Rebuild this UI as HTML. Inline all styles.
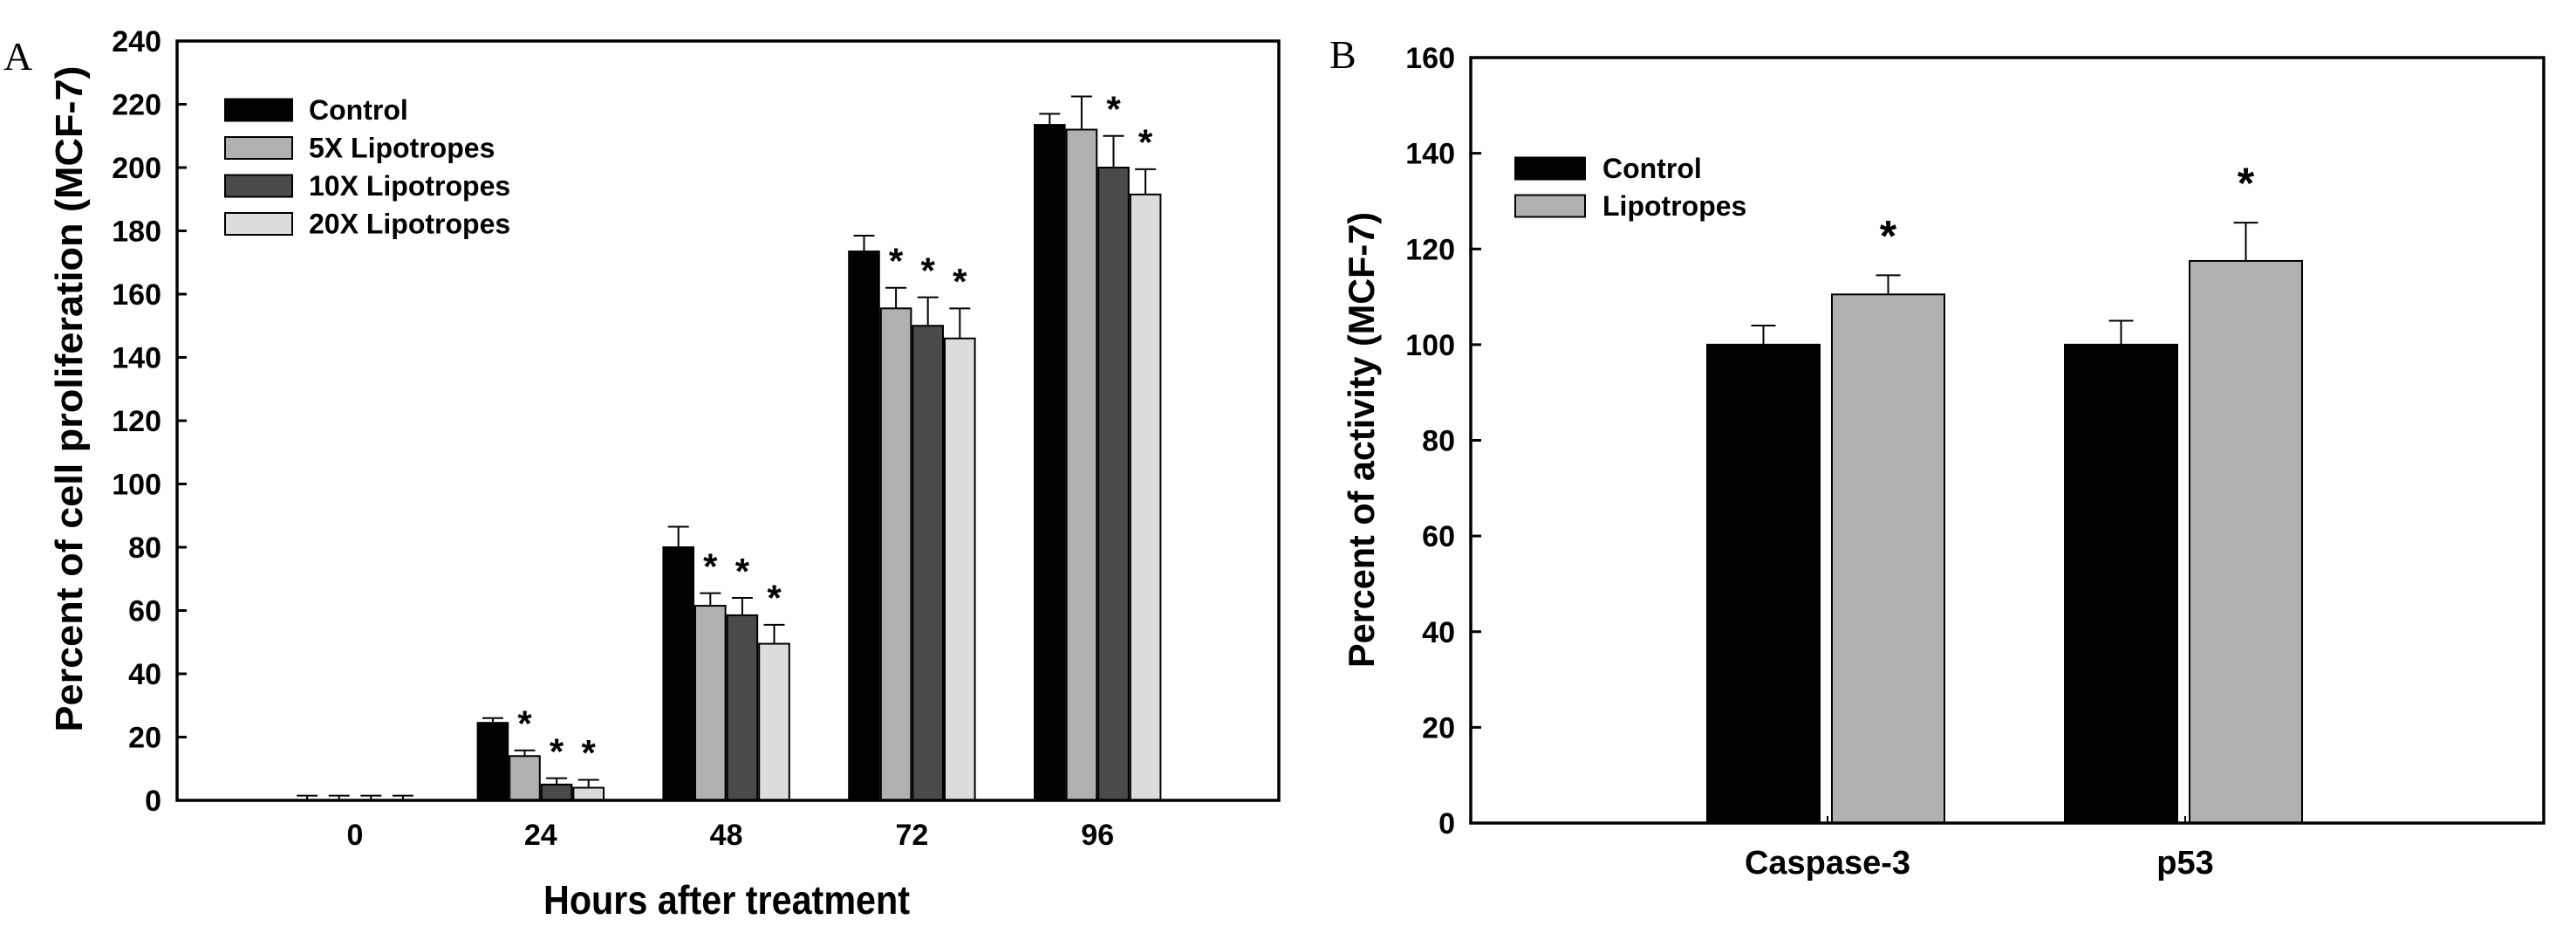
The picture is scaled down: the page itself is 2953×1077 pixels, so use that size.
<!DOCTYPE html>
<html><head><meta charset="utf-8"><style>
html,body{margin:0;padding:0;background:#fff;}
svg{display:block;}
text{font-family:"Liberation Sans",Arial,sans-serif;font-weight:bold;fill:#000;}
.narrow{font-family:"Liberation Sans Narrow","Liberation Sans",Arial,sans-serif;}
.serif{font-family:"Liberation Serif",serif;font-weight:normal;}
</style></head><body>
<svg id="svg" width="2953" height="1077" viewBox="0 0 2953 1077" xmlns="http://www.w3.org/2000/svg">
<text class="serif" x="4" y="80" font-size="46">A</text>
<text class="serif" x="1524" y="78" font-size="46">B</text>
<g id="chartA"></g>
<g id="chartB"></g>
</svg>
<script>
// Panel A data
const catsA = ["0","24","48","72","96"];
const seriesNamesA = ["Control","5X Lipotropes","10X Lipotropes","20X Lipotropes"];
const controlA = [0, 24.5, 80, 173.5, 213.5];
const lipo5A = [0, 14, 61.5, 155.5, 212];
const lipo10A = [0, 5, 58.5, 150, 200];
const lipo20A = [0, 4, 49.5, 146, 191.5];
const errControlA = [1.5, 1.5, 6.5, 5, 3.5];
const errLipo5A = [1.5, 1.8, 4, 6.5, 10.5];
const errLipo10A = [1.5, 2, 5.5, 9, 10];
const errLipo20A = [1.5, 2.5, 6, 9.5, 8];
const sigLipo5A = [0,1,1,1,0];
const sigLipo10A = [0,1,1,1,1];
const sigLipo20A = [0,1,1,1,1];
const yTicksA = [0,20,40,60,80,100,120,140,160,180,200,220,240];
// Panel B data
const catsB = ["Caspase-3","p53"];
const seriesNamesB = ["Control","Lipotropes"];
const controlB = [100, 100];
const lipoB = [110.5, 117.5];
const errControlB = [4, 5];
const errLipoB = [4, 8];
const sigLipoB = [1, 1];
const yTicksB = [0,20,40,60,80,100,120,140,160];

const NS="http://www.w3.org/2000/svg";
function mk(parent, tag, attrs, txt){
  const e=document.createElementNS(NS,tag);
  for(const k in attrs) e.setAttribute(k, attrs[k]);
  if(txt!==undefined) e.textContent=txt;
  parent.appendChild(e); return e;
}

// ---------- Panel A ----------
(function(){
  const g=document.getElementById('chartA');
  const L=203,R=1466,T=47,B=917,ymax=240;
  const y=v=>B-(v/ymax)*(B-T);
  const x0=407, step=212.8, bw=36.6;
  const xc=i=>x0+i*step;
  const fills=["#000000","#b0b0b0","#4a4a4a","#dcdcdc"];
  const vals=[controlA,lipo5A,lipo10A,lipo20A];
  const errs=[errControlA,errLipo5A,errLipo10A,errLipo20A];
  const sigs=[null,sigLipo5A,sigLipo10A,sigLipo20A];
  const keys=["control","5x","10x","20x"];
  yTicksA.forEach(t=>{
    const tl=mk(g,'line',{x1:L,x2:L+11,y1:y(t),y2:y(t),stroke:'#000','stroke-width':3});
    
    
    const tx=mk(g,'text',{x:L-18,y:y(t)+12,'font-size':34,'text-anchor':'end'},String(t));
    
    
  });
  catsA.forEach((c,i)=>{
    const tx=mk(g,'text',{x:xc(i),y:968,'font-size':34,'text-anchor':'middle'},c);
    
    
    for(let s=0;s<4;s++){
      const v=vals[s][i], e=errs[s][i];
      const bx=xc(i)-2*bw+s*bw;
      const cx=bx+bw/2;
      const el=mk(g,'line',{x1:cx,x2:cx,y1:y(v),y2:y(v+e),stroke:'#000','stroke-width':2});
      
      
      const ec=mk(g,'line',{x1:cx-12,x2:cx+12,y1:y(v+e),y2:y(v+e),stroke:'#000','stroke-width':2});
      
      
      if(v>0){
        const r=mk(g,'rect',{x:bx+1,y:y(v),width:bw-2,height:B-y(v),fill:fills[s],stroke:'#000','stroke-width':2});
        
        
      }
      if(sigs[s] && sigs[s][i]){
        const st=mk(g,'text',{x:cx,y:y(v+e+10)+20,'font-size':42,'text-anchor':'middle'},'*');
        
        
      }
    }
  });
  const fr=mk(g,'rect',{x:L,y:T,width:R-L,height:B-T,fill:'none',stroke:'#000','stroke-width':3.5});
  
  
  seriesNamesA.forEach((n,s)=>{
    const cy=126+s*43.5;
    const r=mk(g,'rect',{x:258,y:cy-12.5,width:77,height:25,fill:fills[s],stroke:'#000','stroke-width':2});
    
    
    const t=mk(g,'text',{x:354,y:cy+11,'font-size':32},n);
    
    
  });
  const yt=mk(g,'text',{x:0,y:0,'font-size':44,'text-anchor':'middle',textLength:763,lengthAdjust:'spacingAndGlyphs',transform:'translate(94,457) rotate(-90)'},'Percent of cell proliferation (MCF-7)');
  
  
  const xt=mk(g,'text',{x:833,y:1047,'font-size':46,'text-anchor':'middle',textLength:420,lengthAdjust:'spacingAndGlyphs'},'Hours after treatment');
  
  
})();

// ---------- Panel B ----------
(function(){
  const g=document.getElementById('chartB');
  const L=1686,R=2916,T=66,B=943,ymax=160;
  const y=v=>B-(v/ymax)*(B-T);
  const cxs=[2095,2505];
  const bw=129;
  yTicksB.forEach(t=>{
    const tl=mk(g,'line',{x1:L,x2:L+12,y1:y(t),y2:y(t),stroke:'#000','stroke-width':3});
    
    
    const tx=mk(g,'text',{x:L-18,y:y(t)+12,'font-size':34,'text-anchor':'end'},String(t));
    
    
  });
  const vals=[controlB,lipoB], errs=[errControlB,errLipoB], fills=["#000000","#b0b0b0"], keys=["control","lipotropes"];
  catsB.forEach((c,i)=>{
    const tx=mk(g,'text',{x:cxs[i],y:1001,'font-size':38,'text-anchor':'middle'},c);
    
    
    for(let s=0;s<2;s++){
      const v=vals[s][i], e=errs[s][i];
      const bx= s===0 ? cxs[i]-138 : cxs[i]+5;
      const cx=bx+bw/2;
      const el=mk(g,'line',{x1:cx,x2:cx,y1:y(v),y2:y(v+e),stroke:'#000','stroke-width':2});
      
      
      const ec=mk(g,'line',{x1:cx-14,x2:cx+14,y1:y(v+e),y2:y(v+e),stroke:'#000','stroke-width':2});
      
      
      const r=mk(g,'rect',{x:bx,y:y(v),width:bw,height:B-y(v),fill:fills[s],stroke:'#000','stroke-width':2});
      
      
      if(s===1 && sigLipoB[i]){
        const st=mk(g,'text',{x:cx,y:y(v+e+9.5)+24,'font-size':50,'text-anchor':'middle'},'*');
        
        
      }
    }
    const ct=mk(g,'line',{x1:cxs[i],x2:cxs[i],y1:B,y2:B-8,stroke:'#000','stroke-width':2});
    
    
  });
  const fr=mk(g,'rect',{x:L,y:T,width:R-L,height:B-T,fill:'none',stroke:'#000','stroke-width':3.5});
  
  
  seriesNamesB.forEach((n,s)=>{
    const cy=193+s*43;
    const r=mk(g,'rect',{x:1737,y:cy-12.5,width:80,height:25,fill:fills[s],stroke:'#000','stroke-width':2});
    
    
    const t=mk(g,'text',{x:1837,y:cy+11,'font-size':32},n);
    
    
  });
  const yt=mk(g,'text',{x:0,y:0,'font-size':42,'text-anchor':'middle',textLength:522,lengthAdjust:'spacingAndGlyphs',transform:'translate(1575,504) rotate(-90)'},'Percent of activity (MCF-7)');
  
  
})();
</script>
</body></html>
